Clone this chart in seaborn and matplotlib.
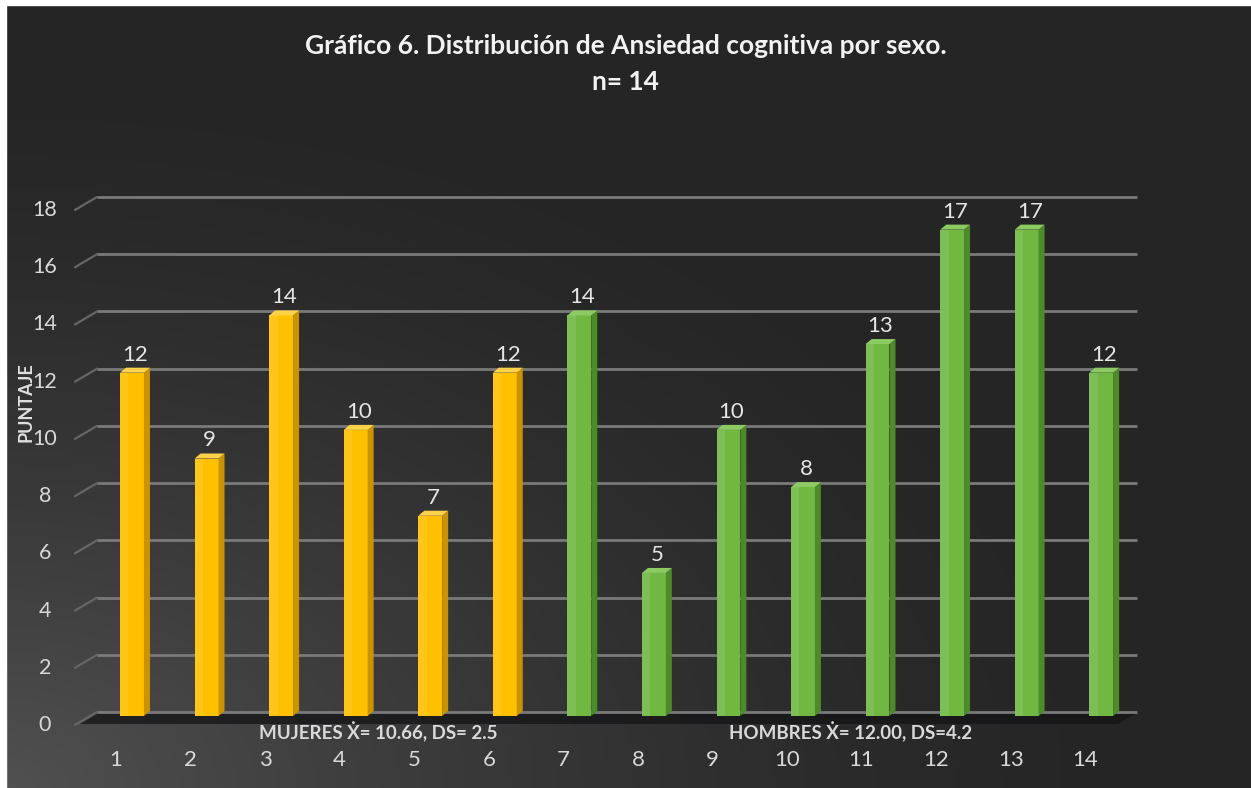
import numpy as np
import pandas as pd
import matplotlib
matplotlib.use("Agg")
import matplotlib.pyplot as plt
import seaborn as sns
from matplotlib.transforms import ScaledTranslation, IdentityTransform
from matplotlib.patches import Polygon, Rectangle

# ---------------- data ----------------
participants = ["1", "2", "3", "4", "5", "6", "7", "8", "9", "10", "11", "12", "13", "14"]
scores = [12, 9, 14, 10, 7, 12, 14, 5, 10, 8, 13, 17, 17, 12]
sexo = ["Mujeres"] * 6 + ["Hombres"] * 8
y_ticks = [0, 2, 4, 6, 8, 10, 12, 14, 16, 18]
title_line1 = "Gráfico 6. Distribución de Ansiedad cognitiva por sexo."
title_line2 = "n= 14"
y_label = "PUNTAJE"
note_mujeres = "MUJERES Ẋ= 10.66, DS= 2.5"
note_hombres = "HOMBRES Ẋ= 12.00, DS=4.2"

front_colors = {"Mujeres": "#FFC000", "Hombres": "#70B842"}
side_colors = {"Mujeres": "#C99400", "Hombres": "#4C8A2A"}
top_colors = {"Mujeres": "#FFD24A", "Hombres": "#8CCB62"}

df = pd.DataFrame({"participante": participants, "puntaje": scores, "sexo": sexo})

sns.set_theme(style="dark")
plt.rcParams["font.family"] = ["Lato", "DejaVu Sans"]

W, H = 1251, 788
fig = plt.figure(figsize=(W / 100, H / 100), dpi=100)
fig.patch.set_facecolor("#262626")

# ---- background gradient (lighter toward bottom-left) ----
bg = fig.add_axes([0, 0, 1, 1], zorder=-10)
yy, xx = np.mgrid[0:H, 0:W]
d = np.hypot(xx / W, (H - yy) / H)
inten = 0.15 + 0.17 * np.clip(1 - d / 0.9, 0, 1) ** 1.5
bg.imshow(inten, cmap="gray", vmin=0, vmax=1, extent=[0, 1, 0, 1], aspect="auto", origin="upper")
bg.set_axis_off()
# white crop border (top and left)
fig.patches.append(Rectangle((0, 0), 6 / W, 1, transform=fig.transFigure, color="white", zorder=5))
fig.patches.append(Rectangle((0, 1 - 5 / H), 1, 5 / H, transform=fig.transFigure, color="white", zorder=5))

# ---- main axes ----
ax_left, ax_right = 97, 1137
ax_y0, ax_y18 = 716, 201
ax = fig.add_axes([ax_left / W, (H - ax_y0) / H, (ax_right - ax_left) / W, (ax_y0 - ax_y18) / H])
ax.set_facecolor("none")
xlim = (-0.47, 13.48)
ylim = (0, 18)
px_x = (ax_right - ax_left) / (xlim[1] - xlim[0])
px_y = (ax_y0 - ax_y18) / (ylim[1] - ylim[0])

sns.barplot(data=df, x="participante", y="puntaje", hue="sexo", palette=front_colors,
            dodge=False, width=0.32, legend=False, ax=ax, zorder=3, linewidth=0,
            saturation=1)

ax.set_xlim(*xlim)
ax.set_ylim(*ylim)
for s in ax.spines.values():
    s.set_visible(False)
ax.set_xticks([])
ax.set_yticks([])
ax.set_xlabel("")
ax.set_ylabel("")
ax.grid(False)

dpi = fig.dpi
def off(dx_px, dy_px):
    return ScaledTranslation(dx_px / dpi, dy_px / dpi, fig.dpi_scale_trans)

# floor (subtle dark shadow band)
fl_pts = [(80, 724), (99, 713), (1137, 713), (1118, 724)]
floor = Polygon([((x - ax_left) / 1040, (ax_y0 - y) / (ax_y0 - ax_y18)) for x, y in fl_pts],
                closed=True, transform=ax.transAxes, facecolor="#141416", edgecolor="none",
                alpha=0.75, zorder=1, clip_on=False)
ax.add_patch(floor)

# gridlines (back wall)
gtrans = ax.get_yaxis_transform()
for v in y_ticks:
    ax.plot([0, 1], [v, v], color="#7a7a7a", lw=2.0, transform=gtrans + off(0, 4),
            zorder=2, clip_on=False, solid_capstyle="butt")

# slanted side segments (display coordinates)
Hpx = H
for v in y_ticks:
    ydisp = ax.transData.transform((0, v))[1]
    ax.add_line(plt.Line2D([75, ax_left], [ydisp - 9, ydisp + 4], transform=IdentityTransform(),
                           color="#666666", lw=1.6, zorder=2, clip_on=False))

# 3D side and top faces for each bar
bars = [p for p in ax.patches if isinstance(p, Rectangle) and p.get_height() > 0]
dxd = 6 / px_x
dyd = 5 / px_y
for p, s in zip(sorted(bars, key=lambda r: r.get_x()), sexo):
    x, w, h = p.get_x(), p.get_width(), p.get_height()
    side = Polygon([(x + w, 0), (x + w + dxd, dyd), (x + w + dxd, h + dyd), (x + w, h)],
                   closed=True, facecolor=side_colors[s], edgecolor="none", zorder=3)
    top = Polygon([(x, h), (x + dxd, h + dyd), (x + w + dxd, h + dyd), (x + w, h)],
                  closed=True, facecolor=top_colors[s], edgecolor="none", zorder=3)
    ax.add_patch(side)
    ax.add_patch(top)
    hl = Rectangle((x, 0), w * 0.35, h, facecolor="white", alpha=0.10, edgecolor="none", zorder=3.5)
    ax.add_patch(hl)

ax.set_xlim(*xlim)
ax.set_ylim(*ylim)

# value labels
for i, v in enumerate(scores):
    ax.text(i, v, str(v), ha="center", va="bottom", color="#e6e6e6", fontsize=16,
            transform=ax.transData + off(3, 8), zorder=5)

# x category labels
xtrans = ax.get_xaxis_transform()
for i, lab in enumerate(participants):
    ax.text(i, 0, lab, ha="center", va="center", color="#d9d9d9", fontsize=16,
            transform=xtrans + off(-16, -44), clip_on=False)

# y tick labels
for v in y_ticks:
    ax.text(-52 / 1040, v, str(v), ha="center", va="center", color="#d9d9d9", fontsize=15.5,
            transform=gtrans + off(0, -9), clip_on=False)

# titles and notes
fig.text(0.5, 1 - 46 / H, title_line1, ha="center", va="center", color="#f2f2f2",
         fontsize=19, fontweight="bold")
fig.text(0.5, 1 - 82 / H, title_line2, ha="center", va="center", color="#f2f2f2",
         fontsize=19, fontweight="bold")
fig.text(26 / W, 1 - 402 / H, y_label, rotation=90, ha="center", va="center", color="#e0e0e0",
         fontsize=13, fontweight="bold")
fig.text(378 / W, 1 - 732 / H, note_mujeres, ha="center", va="center", color="#d9d9d9",
         fontsize=13.5, fontweight="bold")
fig.text(851 / W, 1 - 732 / H, note_hombres, ha="center", va="center", color="#d9d9d9",
         fontsize=13.5, fontweight="bold")

fig.savefig("out.png", dpi=100, facecolor=fig.get_facecolor())
